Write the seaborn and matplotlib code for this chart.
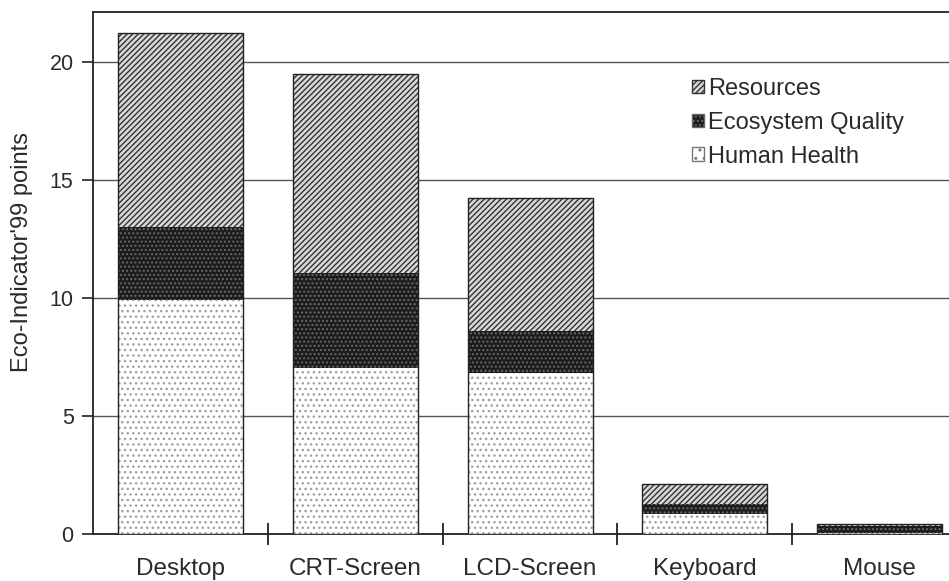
import numpy as np
import pandas as pd
import seaborn as sns
import matplotlib.pyplot as plt
from matplotlib.patches import Patch

devices = ["Desktop", "CRT-Screen", "LCD-Screen", "Keyboard", "Mouse"]
human_health = [9.9, 7.05, 6.8, 0.85, 0.05]
ecosystem_quality = [3.1, 4.0, 1.8, 0.42, 0.3]
resources = [8.2, 8.45, 5.65, 0.83, 0.05]
y_ticks = [0, 5, 10, 15, 20]

sns.set_style("white")
plt.rcParams["font.family"] = ["Liberation Sans", "DejaVu Sans"]
plt.rcParams["hatch.linewidth"] = 1.0

frame = pd.DataFrame({
    "device": devices,
    "hh": human_health,
    "eq": ecosystem_quality,
    "res": resources,
})
frame["hh_eq"] = frame["hh"] + frame["eq"]
frame["total"] = frame["hh_eq"] + frame["res"]

fig = plt.figure(figsize=(9.49, 5.81), dpi=100)
ax = fig.add_axes([0.098, 0.081, 0.91, 0.898])

for yv in y_ticks[1:]:
    ax.axhline(yv, color="#555555", lw=1.0, zorder=0)

# stacked bars drawn as overlapping cumulative totals
sns.barplot(data=frame, x="device", y="total", ax=ax, width=0.715,
            color="#d8d8d8", edgecolor="#333333", hatch="//////", linewidth=0, zorder=2)
sns.barplot(data=frame, x="device", y="hh_eq", ax=ax, width=0.715,
            color="#1c1c1c", edgecolor="#6a6a6a", hatch="....", linewidth=0, zorder=3)
sns.barplot(data=frame, x="device", y="hh", ax=ax, width=0.715,
            color="#ffffff", edgecolor="#a0a0a0", hatch="...", linewidth=0, zorder=4)
sns.barplot(data=frame, x="device", y="total", ax=ax, width=0.715,
            fill=False, edgecolor="#222222", linewidth=1.0, zorder=5)

ax.set_xlim(-0.5, 4.44)
ax.set_ylim(0, 22.1)
ax.set_yticks(y_ticks)
ax.set_xticks(range(len(devices)))
ax.set_xticklabels(devices, fontsize=17.5, color="#2a2a2a")
ax.set_xticks(np.arange(0.5, 4.0, 1.0), minor=True)
ax.tick_params(axis="x", which="major", bottom=True, length=0, pad=17)
ax.tick_params(axis="x", which="minor", bottom=True, direction="inout", length=16,
               width=1.3, color="#222222")
ax.tick_params(axis="y", left=True, direction="out", length=8, width=1.2, color="#222222",
               labelsize=15.5, labelcolor="#2a2a2a", pad=6)
ax.set_xlabel("")
ax.set_ylabel("Eco-Indicator'99 points", fontsize=17, color="#2a2a2a")
ax.yaxis.set_label_coords(-0.07, 0.54)

for side in ["left", "bottom", "top", "right"]:
    ax.spines[side].set_color("#222222")
    ax.spines[side].set_linewidth(1.3)

handles = [
    Patch(facecolor="#d8d8d8", edgecolor="#333333", hatch="//////", label="Resources"),
    Patch(facecolor="#1c1c1c", edgecolor="#6a6a6a", hatch="....", label="Ecosystem Quality"),
    Patch(facecolor="#ffffff", edgecolor="#777777", hatch="..", label="Human Health"),
]
ax.legend(handles=handles, loc="upper left", bbox_to_anchor=(0.694, 0.874), frameon=False,
          borderaxespad=0, borderpad=0, fontsize=17, handlelength=0.5, handleheight=0.5,
          handletextpad=0.15, labelspacing=0.5, labelcolor="#2a2a2a")

fig.savefig("out.png", dpi=100)
